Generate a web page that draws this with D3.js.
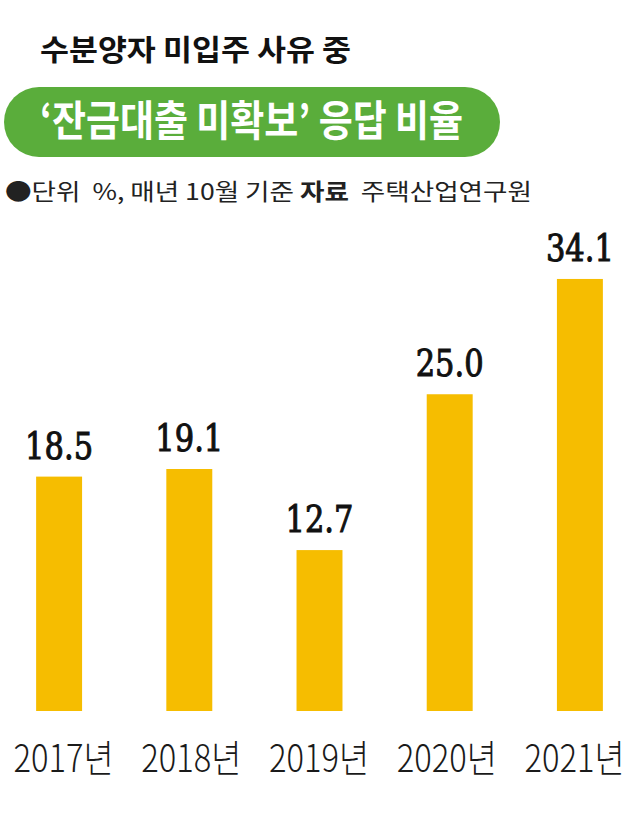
<!DOCTYPE html>
<html><head><meta charset="utf-8">
<script src="https://cdn.jsdelivr.net/npm/d3@7/dist/d3.min.js"></script>
<style>body{margin:0;background:#fff} svg{display:block}</style>
</head><body><svg id="c" width="640" height="825"></svg>
<script>
const years = ["2017", "2018", "2019", "2020", "2021"];
const yearLabels = ["2017년", "2018년", "2019년", "2020년", "2021년"];
const values = [18.5, 19.1, 12.7, 25.0, 34.1];
const valueLabels = ["18.5", "19.1", "12.7", "25.0", "34.1"];
const titleText = "수분양자 미입주 사유 중";
const pillText = "‘잔금대출 미확보’ 응답 비율";
const noteParts = ["●단위  %, 매년 10월 기준 ", "자료", "  주택산업연구원"];

const KR = "'Noto Sans CJK KR', 'Noto Sans', sans-serif";
const svg = d3.select("#c");

// title
svg.append("text").attr("x", 40).attr("y", 61)
  .attr("font-family", KR).attr("font-weight", 700).attr("font-size", 29)
  .attr("fill", "#111").attr("textLength", 311).attr("lengthAdjust", "spacingAndGlyphs")
  .text(titleText);

// green pill
svg.append("rect").attr("x", 4).attr("y", 87).attr("width", 496).attr("height", 70)
  .attr("rx", 35).attr("fill", "#5aad3b");
svg.append("text").attr("x", 40).attr("y", 136)
  .attr("font-family", KR).attr("font-weight", 700).attr("font-size", 42)
  .attr("fill", "#fff").attr("textLength", 423).attr("lengthAdjust", "spacingAndGlyphs")
  .text(pillText);

// note
const note = svg.append("text").attr("x", 5).attr("y", 200)
  .attr("font-family", KR).attr("font-size", 23).attr("fill", "#222")
  .style("white-space", "pre").attr("xml:space", "preserve")
  .attr("textLength", 527).attr("lengthAdjust", "spacingAndGlyphs");
noteParts.forEach((t, i) => {
  note.append("tspan").attr("font-weight", i === 1 ? 700 : 400).text(t);
});

// scales
const x = d3.scaleBand().domain(years).range([-6, 645]).paddingInner(0.647).paddingOuter(0.3235);
const y = d3.scaleLinear().domain([0, 40]).range([711, 204.2]);
const xl = d3.scalePoint().domain(years).range([63, 574]);

const data = years.map((yr, i) => ({yr, v: values[i], vl: valueLabels[i], yl: yearLabels[i]}));

svg.append("g").selectAll("rect").data(data).join("rect")
  .attr("x", d => x(d.yr)).attr("width", x.bandwidth())
  .attr("y", d => y(d.v)).attr("height", d => y(0) - y(d.v))
  .attr("fill", "#f6bd00");

svg.append("g").selectAll("text").data(data).join("text")
  .attr("x", d => x(d.yr) + x.bandwidth() / 2).attr("y", d => y(d.v) - 18)
  .attr("text-anchor", "middle")
  .attr("font-family", "'DejaVu Serif', 'Liberation Serif', serif")
  .attr("font-weight", 400).attr("font-size", 38)
  .attr("fill", "#111").attr("stroke", "#111").attr("stroke-width", 1.1)
  .attr("textLength", 68).attr("lengthAdjust", "spacingAndGlyphs")
  .text(d => d.vl);

// axis labels
const axis = d3.axisBottom(xl).tickSize(0).tickFormat((d, i) => yearLabels[i]);
const ag = svg.append("g").attr("transform", "translate(0,711)").call(axis);
ag.attr("font-family", KR).attr("font-size", 38);
ag.select(".domain").remove();
ag.selectAll("text")
  .attr("y", 61).attr("dy", null)
  .attr("font-family", KR).attr("font-size", 38).attr("font-weight", 300)
  .attr("fill", "#1a1a1a")
  .attr("textLength", 100).attr("lengthAdjust", "spacingAndGlyphs");
</script></body></html>
